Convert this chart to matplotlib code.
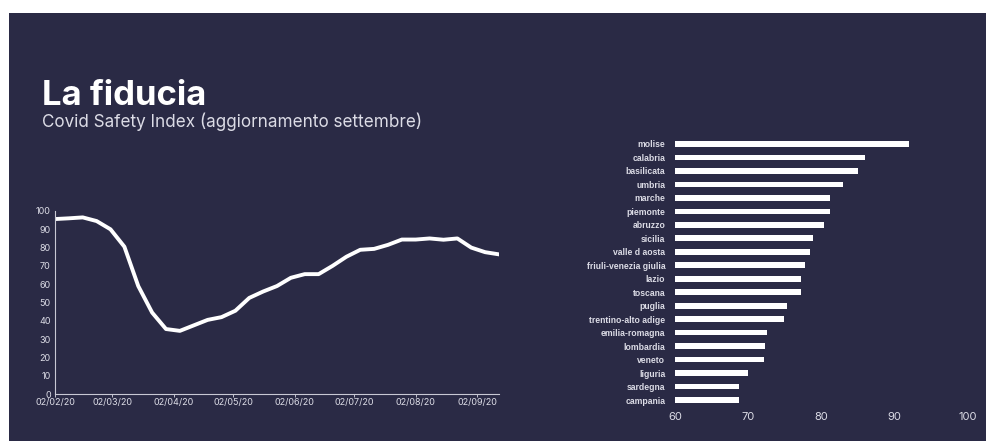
import matplotlib.pyplot as plt
import matplotlib.dates as mdates
import pandas as pd
from matplotlib.patches import Rectangle

# weekly Covid Safety Index
dates = pd.date_range('2020-02-02', periods=33, freq='7D')
index = [95.6, 96.0, 96.5, 94.5, 90.0, 80.5, 59.0, 44.5, 35.5, 34.5, 37.5,
         40.5, 42.0, 45.5, 52.5, 56.0, 59.0, 63.5, 65.5, 65.5, 70.0, 75.0,
         78.8, 79.3, 81.5, 84.4, 84.4, 85.0, 84.3, 85.0, 80.0, 77.5, 76.3]
tick_dates = pd.to_datetime(['2020-02-02', '2020-03-02', '2020-04-02', '2020-05-02',
                             '2020-06-02', '2020-07-02', '2020-08-02', '2020-09-02'])

regions = ['molise', 'calabria', 'basilicata', 'umbria', 'marche', 'piemonte',
           'abruzzo', 'sicilia', 'valle d aosta', 'friuli-venezia giulia', 'lazio',
           'toscana', 'puglia', 'trentino-alto adige', 'emilia-romagna',
           'lombardia', 'veneto', 'liguria', 'sardegna', 'campania']
region_vals = [92.0, 86.0, 85.0, 82.9, 81.1, 81.1, 80.4, 78.8, 78.4, 77.7, 77.2,
               77.2, 75.3, 74.9, 72.6, 72.3, 72.1, 70.0, 68.7, 68.7]

BG = '#2a2a45'
FG = '#dcdce6'

fig = plt.figure(figsize=(9.86, 4.41), dpi=100)
fig.patch.set_facecolor('white')
fig.patches.append(Rectangle((9 / 986, 0), 1, 1 - 13 / 441, transform=fig.transFigure,
                             facecolor=BG, edgecolor='none', zorder=-10))

fig.text(42 / 986, 1 - 105 / 441, 'La fiducia', fontsize=25, fontweight='bold',
         family='Inter', color='white')
fig.text(42 / 986, 1 - 127 / 441, 'Covid Safety Index (aggiornamento settembre)',
         fontsize=12.3, family='Inter', color=FG)

# line chart
ax = fig.add_axes([55 / 986, 1 - 394 / 441, 444 / 986, 183 / 441], zorder=2)
ax.set_facecolor('none')
ax.plot(dates, index, color='white', lw=2.8, solid_joinstyle='round')
ax.set_ylim(0, 100)
ax.set_yticks(range(0, 101, 10))
ax.set_xlim(dates[0], dates[-1])
ax.set_xticks(tick_dates)
ax.xaxis.set_major_formatter(mdates.DateFormatter('%d/%m/%y'))
for s in ['top', 'right']:
    ax.spines[s].set_visible(False)
for s in ['left', 'bottom']:
    ax.spines[s].set_color('#c8c8d4')
    ax.spines[s].set_linewidth(0.8)
ax.tick_params(colors=FG, labelsize=6.5, length=2, width=0.6, pad=1)
ax.tick_params(axis='y', length=0, pad=3)
for lab in ax.get_xticklabels() + ax.get_yticklabels():
    lab.set_family('Inter')

# bar chart
bx = fig.add_axes([675 / 986, 1 - 406.75 / 441, 293 / 986, 269.5 / 441], zorder=2)
bx.set_facecolor('none')
ypos = list(range(len(regions)))
bx.barh(ypos, [v - 60 for v in region_vals], left=60, height=0.42, color='white')
bx.set_xlim(60, 100)
bx.set_ylim(len(regions) - 0.5, -0.5)
bx.set_xticks([60, 70, 80, 90, 100])
bx.set_yticks(ypos)
bx.set_yticklabels(regions)
for s in bx.spines.values():
    s.set_visible(False)
bx.tick_params(colors=FG, length=0)
bx.tick_params(axis='x', labelsize=8, pad=4)
bx.tick_params(axis='y', pad=7)
for lab in bx.get_xticklabels():
    lab.set_family('Inter')
for lab in bx.get_yticklabels():
    lab.set_family('Liberation Sans')
    lab.set_fontweight('bold')
    lab.set_fontsize(6.2)

fig.savefig('out.png', dpi=100, facecolor=fig.get_facecolor())
